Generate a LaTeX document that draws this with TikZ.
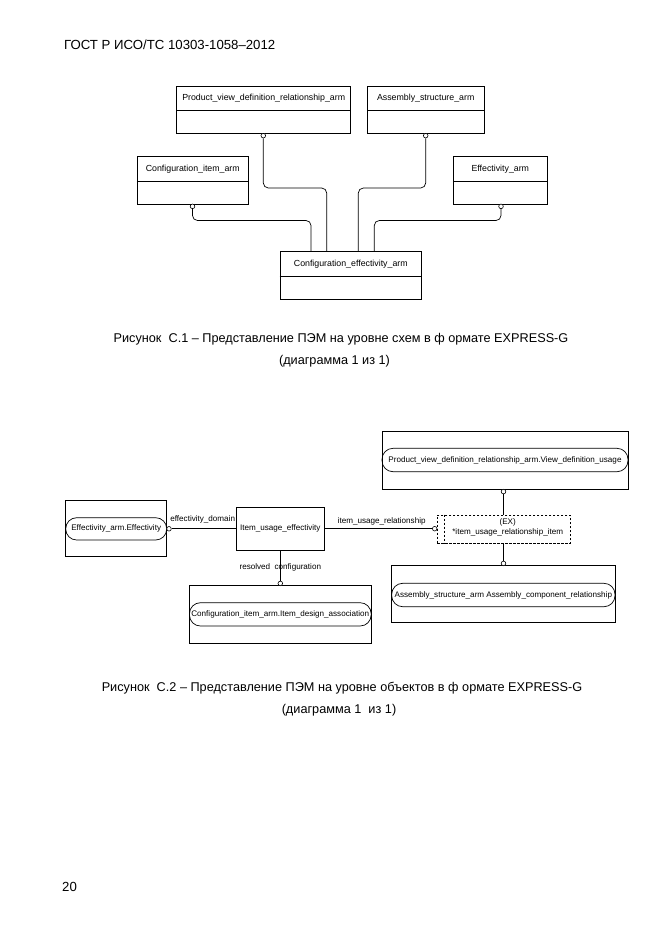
\documentclass[tikz,border=0pt]{standalone}
\usepackage{fontspec}
\setmainfont{Liberation Sans}
\usetikzlibrary{calc}
\newcommand\topfnt{\fontsize{8.8}{10}\selectfont}
\newcommand\botfnt{\fontsize{8.1}{9.5}\selectfont}
\newcommand\capfnt{\fontsize{12.7}{15}\selectfont}
\newcommand\hdrfnt{\fontsize{13.2}{15}\selectfont}
\begin{document}
\begin{tikzpicture}[x=1pt,y=-1pt,
  entbox/.style={draw, line width=0.7pt, inner sep=0pt},
  ttl/.style={inner sep=0pt, font=\topfnt},
  lbl/.style={inner sep=0pt, font=\botfnt},
  rnd/.style={draw, line width=0.7pt, rounded corners=11pt, inner sep=0pt, font=\botfnt},
  dbox/.style={draw, dashed, dash pattern=on 2.5pt off 1.5pt, line width=0.7pt, inner sep=0pt},
  circ/.style={draw, circle, inner sep=0pt, minimum size=4.6pt, fill=white, line width=0.6pt},
  conn/.style={draw, line width=0.7pt, rounded corners=5pt},
  ln/.style={draw, line width=0.7pt},
  captxt/.style={inner sep=0pt, font=\capfnt},
  hdrtxt/.style={inner sep=0pt, font=\hdrfnt}]
\useasboundingbox (0,0) rectangle (661,935);

% header and page number
\node[hdrtxt, anchor=west] (hdr) at (64,45) {ГОСТ Р ИСО/ТС 10303-1058–2012};
\node[hdrtxt, anchor=west] (pg) at (62,887) {20};

% ---------- Figure C.1 ----------
\node[entbox, minimum width=174pt, minimum height=47.3pt] (pvdr) at (263.7,109.7) {};
\node[ttl] (pvdrT) at (263.7,98.4) {Product\_view\_definition\_relationship\_arm};
\draw[ln] ($(pvdr.north west)+(0,24.7)$) -- ($(pvdr.north east)+(0,24.7)$);

\node[entbox, minimum width=116.7pt, minimum height=47.3pt] (asm) at (425.7,109.7) {};
\node[ttl] (asmT) at (425.7,98.4) {Assembly\_structure\_arm};
\draw[ln] ($(asm.north west)+(0,24.7)$) -- ($(asm.north east)+(0,24.7)$);

\node[entbox, minimum width=111pt, minimum height=47.3pt] (ci) at (192.8,180.4) {};
\node[ttl] (ciT) at (192.8,169.1) {Configuration\_item\_arm};
\draw[ln] ($(ci.north west)+(0,24.7)$) -- ($(ci.north east)+(0,24.7)$);

\node[entbox, minimum width=94pt, minimum height=47.3pt] (ef) at (500.3,180.4) {};
\node[ttl] (efT) at (500.3,169.1) {Effectivity\_arm};
\draw[ln] ($(ef.north west)+(0,24.7)$) -- ($(ef.north east)+(0,24.7)$);

\node[entbox, minimum width=141.7pt, minimum height=47.6pt] (ce) at (350.8,275.5) {};
\node[ttl] (ceT) at (350.8,264.2) {Configuration\_effectivity\_arm};
\draw[ln] ($(ce.north west)+(0,25)$) -- ($(ce.north east)+(0,25)$);

\node[circ] (c1) at (263.3,135.65) {};
\node[circ] (c2) at (425.7,135.65) {};
\node[circ] (c3) at (192.5,206.35) {};
\node[circ] (c4) at (501,206.35) {};

\coordinate (k1) at (326.7,188);
\coordinate (k2) at (358.3,188);
\coordinate (k3) at (311,220.5);
\coordinate (k4) at (374.3,220.5);

\draw[conn] (c1.south) |- (k1) -- (k1 |- ce.north);
\draw[conn] (c2.south) |- (k2) -- (k2 |- ce.north);
\draw[conn] (c3.south) |- (k3) -- (k3 |- ce.north);
\draw[conn] (c4.south) |- (k4) -- (k4 |- ce.north);

\node[captxt] (cap1a) at (341,339) {Рисунок\ \ С.1 – Представление ПЭМ на уровне схем в ф ормате EXPRESS-G};
\node[captxt] (cap1b) at (334.5,361) {(диаграмма 1 из 1)};

% ---------- Figure C.2 ----------
\node[entbox, minimum width=101pt, minimum height=56.7pt] (eo) at (116.2,528.35) {};
\node[rnd, minimum width=101pt, minimum height=22.3pt] (ei) at (116.2,528.85) {Effectivity\_arm.Effectivity};
\node[circ] (e1) at (169,528.8) {};

\node[entbox, minimum width=87.3pt, minimum height=42.7pt, font=\botfnt] (iue) at (280.3,528.7) {Item\_usage\_effectivity};
\draw[ln] (e1.east) -- (e1.east -| iue.west);
\node[lbl] (l1) at (202.7,519.3) {effectivity\_domain};

\node[entbox, minimum width=181.7pt, minimum height=57.8pt] (cido) at (280.3,614.6) {};
\node[rnd, minimum width=181.7pt, minimum height=23.3pt] (cidi) at (280.3,614.35) {Configuration\_item\_arm.Item\_design\_association};
\node[circ] (r1) at (280.3,583.4) {};
\draw[ln] (iue.south) -- (r1.north);
\node[lbl] (l2) at (280.3,567.3) {resolved\ \ configuration};

\node[dbox, minimum width=133pt, minimum height=28.3pt] (ex) at (503.5,529.15) {};
\draw[ln, dashed, dash pattern=on 2.5pt off 1.5pt] ($(ex.north west)+(8,0)$) -- ($(ex.south west)+(8,0)$);
\node[lbl, align=center] (exT) at (507.7,527.2) {(EX)\\*item\_usage\_relationship\_item};
\node[circ] (i1) at (434.7,528.7) {};
\draw[ln] (iue.east) -- (i1.west);
\node[lbl] (l3) at (381.7,521.7) {item\_usage\_relationship};

\node[entbox, minimum width=246pt, minimum height=57.6pt] (pvo) at (505,460.5) {};
\node[rnd, minimum width=246pt, minimum height=23.4pt] (pvi) at (505,460) {Product\_view\_definition\_relationship\_arm.View\_definition\_usage};
\node[circ] (p1) at (503.5,491.6) {};
\draw[ln] (p1.south) -- (p1.south |- ex.north);

\node[entbox, minimum width=223.3pt, minimum height=57pt] (aso) at (503.35,594.2) {};
\node[rnd, minimum width=223.3pt, minimum height=23.4pt] (asi) at (503.35,595) {Assembly\_structure\_arm Assembly\_component\_relationship};
\node[circ] (a1) at (503.5,563.4) {};
\draw[ln] (a1.north |- ex.south) -- (a1.north);

\node[captxt] (cap2a) at (342,688) {Рисунок\ \ С.2 – Представление ПЭМ на уровне объектов в ф ормате EXPRESS-G};
\node[captxt] (cap2b) at (339,710) {(диаграмма 1\ \ из 1)};
\end{tikzpicture}
\end{document}
